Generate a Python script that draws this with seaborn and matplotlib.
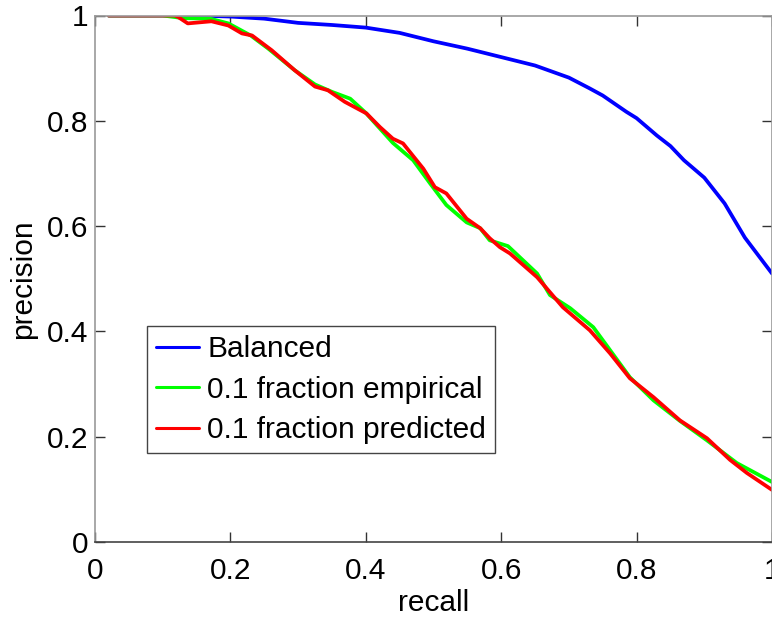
import numpy as np
import pandas as pd
import matplotlib
matplotlib.use("Agg")
import matplotlib.pyplot as plt
import seaborn as sns

# ---- data ----
bal_x = [0.02, 0.10, 0.15, 0.20, 0.25, 0.30, 0.35, 0.40, 0.45, 0.50, 0.55, 0.60,
         0.65, 0.70, 0.73, 0.75, 0.785, 0.80, 0.83, 0.85, 0.87, 0.90, 0.93, 0.96, 1.00]
bal_y = [1.00, 1.00, 1.00, 0.998, 0.994, 0.986, 0.982, 0.977, 0.967, 0.951, 0.937, 0.921,
         0.905, 0.882, 0.862, 0.848, 0.817, 0.805, 0.772, 0.752, 0.725, 0.692, 0.643, 0.578, 0.51]

emp_x = [0.02, 0.10, 0.13, 0.17, 0.197, 0.23, 0.256, 0.295, 0.325, 0.35, 0.377, 0.40,
         0.44, 0.47, 0.495, 0.519, 0.549, 0.569, 0.583, 0.61, 0.653, 0.672, 0.702,
         0.736, 0.761, 0.79, 0.825, 0.864, 0.904, 0.948, 1.00]
emp_y = [1.00, 1.00, 0.995, 0.994, 0.985, 0.962, 0.937, 0.896, 0.869, 0.855, 0.842, 0.815,
         0.758, 0.725, 0.681, 0.640, 0.607, 0.596, 0.573, 0.562, 0.510, 0.469, 0.444,
         0.408, 0.364, 0.313, 0.269, 0.230, 0.193, 0.150, 0.114]

pred_x = [0.02, 0.118, 0.123, 0.137, 0.172, 0.197, 0.217, 0.232, 0.261, 0.295, 0.325, 0.344,
          0.369, 0.401, 0.421, 0.440, 0.455, 0.485, 0.502, 0.519, 0.549, 0.569, 0.583,
          0.598, 0.613, 0.653, 0.691, 0.731, 0.761, 0.790, 0.825, 0.864, 0.904, 0.938,
          0.963, 1.00]
pred_y = [1.00, 1.00, 0.997, 0.985, 0.989, 0.981, 0.966, 0.962, 0.934, 0.896, 0.865, 0.858,
          0.836, 0.814, 0.788, 0.766, 0.757, 0.709, 0.674, 0.662, 0.614, 0.596, 0.577,
          0.560, 0.548, 0.503, 0.446, 0.402, 0.358, 0.311, 0.275, 0.231, 0.197, 0.156,
          0.131, 0.099]

labels = ["Balanced", "0.1 fraction empirical", "0.1 fraction predicted"]
colors = ["#0000ff", "#00ff00", "#ff0000"]
x_ticks = [0, 0.2, 0.4, 0.6, 0.8, 1]
x_tick_labels = ["0", "0.2", "0.4", "0.6", "0.8", "1"]
y_ticks = [0, 0.2, 0.4, 0.6, 0.8, 1]
y_tick_labels = ["0", "0.2", "0.4", "0.6", "0.8", "1"]

df = pd.concat([
    pd.DataFrame({"recall": bal_x, "precision": bal_y, "series": labels[0]}),
    pd.DataFrame({"recall": emp_x, "precision": emp_y, "series": labels[1]}),
    pd.DataFrame({"recall": pred_x, "precision": pred_y, "series": labels[2]}),
], ignore_index=True)

sns.set_style("ticks")
plt.rcParams["font.family"] = ["Liberation Sans", "DejaVu Sans"]
plt.rcParams["text.color"] = "black"
plt.rcParams["axes.labelcolor"] = "black"

fig = plt.figure(figsize=(7.72, 6.2), dpi=100)
ax = fig.add_axes([95 / 772, 78 / 620, 677 / 772, 526.5 / 620])

sns.lineplot(data=df, x="recall", y="precision", hue="series", hue_order=labels,
             palette=colors, estimator=None, sort=False, linewidth=2.7, ax=ax)

ax.set_xlim(0, 1)
ax.set_ylim(0, 1)
ax.set_xticks(x_ticks)
ax.set_xticklabels(x_tick_labels)
ax.set_yticks(y_ticks)
ax.set_yticklabels(y_tick_labels)
ax.tick_params(direction="in", length=7, width=1, labelsize=21.5, colors="#333333",
               top=True, right=True, labelcolor="black")
ax.tick_params(axis="x", pad=11)
ax.tick_params(axis="y", pad=5)
for side in ["left", "top", "right"]:
    ax.spines[side].set_color("#999999")
    ax.spines[side].set_linewidth(1.2)
ax.spines["bottom"].set_color("#444444")
ax.spines["bottom"].set_linewidth(1.2)

ax.set_xlabel("recall", fontsize=21.5, labelpad=3)
ax.set_ylabel("precision", fontsize=21.5, labelpad=7)

leg = ax.legend(loc="lower left", bbox_to_anchor=(0.077, 0.169), fontsize=21.5,
                frameon=True, fancybox=False, edgecolor="#444444", framealpha=1,
                handlelength=1.44, handletextpad=0.27, borderpad=0.3,
                labelspacing=0.42, borderaxespad=0)
leg.get_frame().set_linewidth(1.0)
for line in leg.get_lines():
    line.set_linewidth(2.2)
for t in leg.get_texts():
    t.set_color("black")

fig.savefig("out.png", dpi=100)
